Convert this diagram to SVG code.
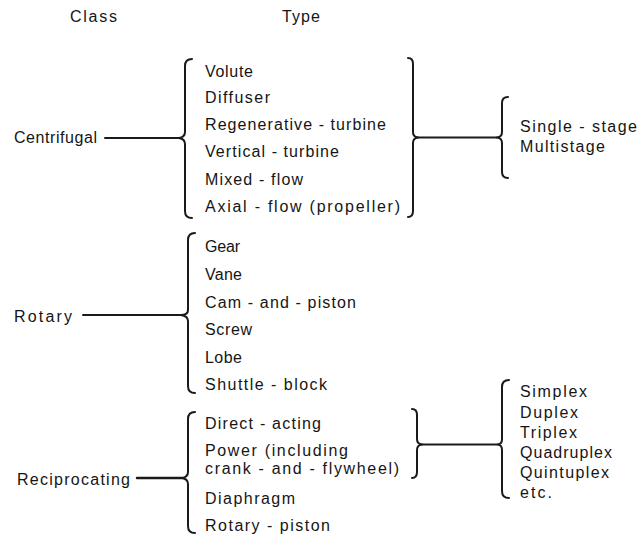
<svg xmlns="http://www.w3.org/2000/svg" width="639" height="539" viewBox="0 0 639 539">
<style>
text{font-family:"Liberation Sans",Arial,sans-serif;font-size:16px;fill:#151515}
.ln{fill:none;stroke:#1a1a1a;stroke-width:2;stroke-linecap:round;stroke-linejoin:round}
</style>
<rect width="639" height="539" fill="#fff"/>
<g id="headers">
<text x="70" y="22" textLength="47" lengthAdjust="spacing">Class</text>
<text x="282" y="22" textLength="38" lengthAdjust="spacing">Type</text>
</g>
<g id="centrifugal">
<text x="14" y="143" textLength="83" lengthAdjust="spacing">Centrifugal</text>
</g>
<g id="rotary">
<text x="14" y="322" textLength="58" lengthAdjust="spacing">Rotary</text>
</g>
<g id="reciprocating">
<text x="17" y="485" textLength="113" lengthAdjust="spacing">Reciprocating</text>
</g>
<g id="centrifugal-types">
<text x="205" y="77" textLength="48" lengthAdjust="spacing">Volute</text>
<text x="205" y="103" textLength="65" lengthAdjust="spacing">Diffuser</text>
<text x="205" y="130" textLength="181" lengthAdjust="spacing">Regenerative - turbine</text>
<text x="205" y="157" textLength="134" lengthAdjust="spacing">Vertical - turbine</text>
<text x="205" y="185" textLength="98" lengthAdjust="spacing">Mixed - flow</text>
<text x="205" y="212" textLength="195" lengthAdjust="spacing">Axial - flow (propeller)</text>
</g>
<g id="stages">
<text x="520" y="132" textLength="117" lengthAdjust="spacing">Single - stage</text>
<text x="520" y="152" textLength="85" lengthAdjust="spacing">Multistage</text>
</g>
<g id="rotary-types">
<text x="205" y="252" textLength="35" lengthAdjust="spacing">Gear</text>
<text x="205" y="280" textLength="37" lengthAdjust="spacing">Vane</text>
<text x="205" y="308" textLength="151" lengthAdjust="spacing">Cam - and - piston</text>
<text x="205" y="335" textLength="47" lengthAdjust="spacing">Screw</text>
<text x="205" y="363" textLength="37" lengthAdjust="spacing">Lobe</text>
<text x="205" y="390" textLength="122" lengthAdjust="spacing">Shuttle - block</text>
</g>
<g id="reciprocating-types">
<text x="205" y="429" textLength="116" lengthAdjust="spacing">Direct - acting</text>
<text x="205" y="456" textLength="143" lengthAdjust="spacing">Power  (including</text>
<text x="205" y="474" textLength="194" lengthAdjust="spacing">crank - and - flywheel)</text>
<text x="205" y="504" textLength="90" lengthAdjust="spacing">Diaphragm</text>
<text x="205" y="531" textLength="125" lengthAdjust="spacing">Rotary - piston</text>
</g>
<g id="multiplex">
<text x="520" y="397" textLength="67" lengthAdjust="spacing">Simplex</text>
<text x="520" y="418" textLength="58" lengthAdjust="spacing">Duplex</text>
<text x="520" y="438" textLength="57" lengthAdjust="spacing">Triplex</text>
<text x="520" y="458" textLength="92" lengthAdjust="spacing">Quadruplex</text>
<text x="520" y="478" textLength="89" lengthAdjust="spacing">Quintuplex</text>
<text x="520" y="498" textLength="32" lengthAdjust="spacing">etc.</text>
</g>
<g id="connectors" class="ln">
<path d="M105 138 L179 138"/>
<path d="M192 59 Q185 59 185 66 L185 132 Q185 137 179 138 Q185 139 185 144 L185 211 Q185 218 192 218"/>
<path d="M408 58 Q413 58 413 64 L413 132 Q413 137 418 137.5 Q413 138 413 143 L413 211 Q413 217 408 217"/>
<path d="M418 137.5 L497 137.5"/>
<path d="M508 97 Q502 97 502 103 L502 132 Q502 137 497 137.5 Q502 138 502 143 L502 172 Q502 178 508 178"/>
<path d="M83 315 L181 315"/>
<path d="M195 233 Q188 233 188 240 L188 310 Q188 315 181 315 Q188 316 188 321 L188 386 Q188 393 195 393"/>
<path d="M137 478 L182 478" stroke-width="2.5"/>
<path d="M195 412 Q188 412 188 419 L188 472 Q188 477 182 478 Q188 479 188 484 L188 526 Q188 533 195 533"/>
<path d="M412 409 Q417 409 417 415 L417 439 Q417 444 422 444.5 Q417 445 417 450 L417 472 Q417 478 412 478"/>
<path d="M422 444.5 L498 444.5"/>
<path d="M509 380 Q502 380 502 387 L502 439 Q502 444 498 444.5 Q502 445 502 450 L502 491 Q502 498 509 498"/>
</g>
</svg>
